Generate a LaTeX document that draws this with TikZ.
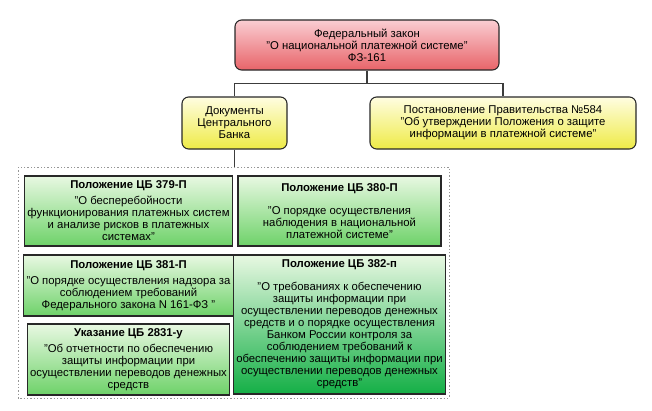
\documentclass[tikz,border=0pt]{standalone}
\usepackage{fontspec}
\setmainfont{Liberation Sans}
\usetikzlibrary{positioning}

\definecolor{redtop}{RGB}{250,205,210}
\definecolor{redbot}{RGB}{232,100,105}
\definecolor{yeltop}{RGB}{255,253,225}
\definecolor{yelbot}{RGB}{238,235,70}
\definecolor{grntop}{RGB}{232,248,226}
\definecolor{grnbot}{RGB}{110,210,105}
\definecolor{dgrnbot}{RGB}{20,175,70}

\tikzset{
  box/.style={draw={rgb,255:red,40;green,40;blue,40}, line width=0.8pt, align=center,
    inner sep=2pt, font=\fontsize{8.5}{9}\selectfont},
  redbox/.style={box, rounded corners=5pt, top color=redtop, bottom color=redbot},
  yelbox/.style={box, rounded corners=5pt, top color=yeltop, bottom color=yelbot},
  grnbox/.style={box, top color=grntop, bottom color=grnbot},
  link/.style={draw={rgb,255:red,60;green,60;blue,60}, line width=0.8pt}
}

\begin{document}
\begin{tikzpicture}[x=0.75pt,y=0.75pt,yscale=-1,xscale=1]
\useasboundingbox (0,0) rectangle (652,410);

% upper level
\node [redbox, minimum width=264*0.75pt, minimum height=50*0.75pt] (law) at (367,45)
  {Федеральный закон\\"О национальной платежной системе"\\ФЗ-161};
\node [yelbox, minimum width=105*0.75pt, minimum height=52*0.75pt] (cbdocs) at (234.5,123)
  {Документы\\Центрального\\Банка};
\node [yelbox, minimum width=266*0.75pt, minimum height=52*0.75pt] (gov584) at (503,123)
  {Постановление Правительства №584\\"Об утверждении Положения о защите\\информации в платежной системе"};

% dashed frame
\draw [draw={rgb,255:red,150;green,150;blue,150}, dash pattern={on 1pt off 1.5pt}] (18,167) rectangle (449,398);
\coordinate (frametop) at (234.5,167);

% documents of the bank
\node [grnbox, minimum width=201*0.75pt, minimum height=70*0.75pt] (p379) at (128.5,211)
  {\textbf{Положение ЦБ 379-П}\\[3pt]"О бесперебойности\\функционирования платежных систем\\и анализе рисков в платежных\\системах"};
\node [grnbox, minimum width=203*0.75pt, minimum height=70*0.75pt] (p380) at (339.5,211)
  {\textbf{Положение ЦБ 380-П}\\[8pt]"О порядке осуществления\\наблюдения в национальной\\платежной системе"};
\node [grnbox, minimum width=201*0.75pt, minimum height=61*0.75pt] (p381) at (128.5,285.5)
  {\textbf{Положение ЦБ 381-П}\\[3pt]"О порядке осуществления надзора за\\соблюдением требований\\Федерального закона N 161-ФЗ "};
\node [grnbox, minimum width=201*0.75pt, minimum height=71*0.75pt] (u2831) at (128.5,359.5)
  {\textbf{Указание ЦБ 2831-у}\\[3pt]"Об отчетности по обеспечению\\защиты информации при\\осуществлении переводов денежных\\средств};
\node [grnbox, bottom color=dgrnbot, minimum width=203*0.75pt, minimum height=139*0.75pt] (p382) at (339.5,324.5)
  {\textbf{Положение ЦБ 382-п}\\[8pt]"О требованиях к обеспечению\\защиты информации при\\осуществлении переводов денежных\\средств и о порядке осуществления\\Банком России контроля за\\соблюдением требований к\\обеспечению защиты информации при\\осуществлении переводов денежных\\средств"};

% connectors
\draw [link] (law.south) -- ++(0,13) -| (cbdocs.north);
\draw [link] (law.south) -- ++(0,13) -| (gov584.north);
\draw [link] (cbdocs.south) -- (frametop);

\end{tikzpicture}
\end{document}
